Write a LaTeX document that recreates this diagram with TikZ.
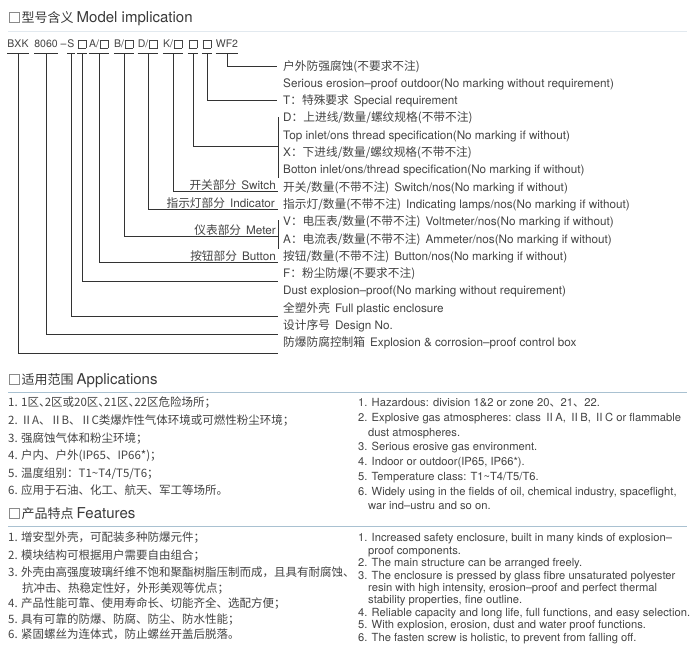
\documentclass[tikz,border=0pt]{standalone}
\usepackage{fontspec}
\setmainfont{TeX Gyre Heros}
\newfontfamily\cjk{Noto Sans CJK SC}
\definecolor{txt}{HTML}{444444}
\definecolor{ttl}{HTML}{3A3A3A}
\definecolor{lne}{HTML}{333333}
\definecolor{rulec}{HTML}{A9C1D1}
\definecolor{rulef}{HTML}{E2E9EF}
\definecolor{sqc}{HTML}{8A8A8A}
\newcommand\rowf{\fontsize{11.7}{14}\selectfont}
\newcommand\codef{\fontsize{10.5}{12}\selectfont}
\newcommand\titf{\fontsize{15}{17}\selectfont}
\newcommand\titc{\cjk\fontsize{13}{15}\selectfont}
\newcommand\fbc{\cjk\fontsize{11.5}{13}\selectfont}
\newcommand\fbe{\fontsize{11.2}{13}\selectfont}
\newcommand\rmtwo{\makebox[0.95em]{Ⅱ}}
\newcommand\nd{、\kern-0.5em}
\newcommand\sqb{\kern0.6pt{\setlength{\fboxsep}{0pt}\setlength{\fboxrule}{0.5pt}\fbox{\rule{0pt}{0.72em}\rule{0.72em}{0pt}}}\kern0.6pt}
\begin{document}
\begin{tikzpicture}[x=1pt,y=-1pt,
  rowt/.style={anchor=base west,inner sep=0pt,font=\rowf,text=txt},
  lblt/.style={anchor=base east,inner sep=0pt,font=\rowf,text=txt},
  codet/.style={anchor=base,inner sep=0pt,text height=7.5pt,text depth=5.5pt,font=\codef,text=txt},
  lead/.style={draw=lne,line width=0.8pt},
  uline/.style={draw=lne,line width=0.8pt},
  titlet/.style={anchor=base west,inner sep=0pt,font=\titf,text=ttl},
  sqbox/.style={draw=sqc,line width=0.7pt,fill=white,minimum size=10pt,inner sep=0pt},
  bodyc/.style={anchor=base west,inner sep=0pt,font=\fbc,text=txt},
  bodye/.style={anchor=base west,inner sep=0pt,font=\fbe,text=txt},
  hrule/.style={draw=rulec,line width=0.9pt}]
\fill[white] (0,0) rectangle (700,654);
\useasboundingbox (0,0) rectangle (700,654);

% ---------- titles and rules
\node[sqbox] (s1) at (14,17.5) {};
\node[titlet] (t1) at (21.5,22.8) {{\titc 型号含义}\hspace{3pt}Model implication};
\draw[draw=rulef,line width=0.9pt] (8,31) -- (687,31);
\node[sqbox] (s2) at (14,379.5) {};
\node[titlet] (t2) at (21.5,384.8) {{\titc 适用范围}\hspace{3pt}Applications};
\draw[hrule] (8,392) -- (687,392);
\node[sqbox] (s3) at (14,513.5) {};
\node[titlet] (t3) at (21.5,518.8) {{\titc 产品特点}\hspace{3pt}Features};
\draw[hrule] (8,526.5) -- (687,526.5);

% ---------- model code
\node[codet] (c1) at (18,47.8) {BXK};
\node[codet] (c2) at (46,47.8) {8060};
\node[codet] (dsh) at (63.5,47.8) {–};
\node[codet] (c3) at (71,47.8) {S};
\node[codet] (c4) at (82,47.8) {\sqb};
\node[codet] (c5) at (99,47.8) {A/\sqb};
\node[codet] (c6) at (124,47.8) {B/\sqb};
\node[codet] (c7) at (148,47.8) {D/\sqb};
\node[codet] (c8) at (173,47.8) {K/\sqb};
\node[codet] (c9) at (193,47.8) {\sqb};
\node[codet] (c10) at (207,47.8) {\sqb};
\node[codet] (c11) at (227,47.8) {WF2};
\foreach \n in {c1,c2,c3,c4,c5,c6,c7,c8,c9,c10,c11}
  \draw[uline] (\n.south west) -- (\n.south east);

% ---------- row texts
\node[rowt] (r1) at (283,70.0) {{\cjk 户外防强腐蚀(不要求不注)}};
\node[rowt] (r2) at (283,87.3) {Serious erosion–proof outdoor(No marking without requirement)};
\node[rowt] (r3) at (283,104.6) {T{\cjk ：特殊要求}\hspace{5pt}Special requirement};
\node[rowt] (r4) at (283,121.9) {D{\cjk ：上进线/数量/螺纹规格(不带不注)}};
\node[rowt] (r5) at (283,139.2) {Top inlet/ons thread specification(No marking if without)};
\node[rowt] (r6) at (283,156.5) {X{\cjk ：下进线/数量/螺纹规格(不带不注)}};
\node[rowt] (r7) at (283,173.8) {Botton inlet/ons/thread specification(No marking if without)};
\node[rowt] (r8) at (283,191.1) {{\cjk 开关/数量(不带不注)}\hspace{5pt}Switch/nos(No marking if without)};
\node[rowt] (r9) at (283,208.4) {{\cjk 指示灯/数量(不带不注)}\hspace{5pt}Indicating lamps/nos(No marking if without)};
\node[rowt] (r10) at (283,225.7) {V{\cjk ：电压表/数量(不带不注)}\hspace{5pt}Voltmeter/nos(No marking if without)};
\node[rowt] (r11) at (283,243.0) {A{\cjk ：电流表/数量(不带不注)}\hspace{5pt}Ammeter/nos(No marking if without)};
\node[rowt] (r12) at (283,260.3) {{\cjk 按钮/数量(不带不注)}\hspace{5pt}Button/nos(No marking if without)};
\node[rowt] (r13) at (283,277.6) {F{\cjk ：粉尘防爆(不要求不注)}};
\node[rowt] (r14) at (283,294.9) {Dust explosion–proof(No marking without requirement)};
\node[rowt] (r15) at (283,312.2) {{\cjk 全塑外壳}\hspace{5pt}Full plastic enclosure};
\node[rowt] (r16) at (283,329.5) {{\cjk 设计序号}\hspace{5pt}Design No.};
\node[rowt] (r17) at (283,346.8) {{\cjk 防爆防腐控制箱}\hspace{5pt}Explosion \& corrosion–proof control box};

% ---------- group labels
\node[lblt] (l8) at (276,189.2) {{\cjk 开关部分}\hspace{5pt}Switch};
\node[lblt] (l7) at (275,207.2) {{\cjk 指示灯部分}\hspace{5pt}Indicator};
\node[lblt] (l6) at (276,234.0) {{\cjk 仪表部分}\hspace{5pt}Meter};
\node[lblt] (l5) at (276,260.5) {{\cjk 按钮部分}\hspace{5pt}Button};

% ---------- leader lines
\coordinate (e11) at (277,66);
\coordinate (e10) at (277,100.6);
\coordinate (bdt) at (278,117);
\coordinate (bdb) at (278,178);
\coordinate (e9) at (278,146);
\coordinate (e8) at (278,191.7);
\coordinate (e7) at (278,209.5);
\coordinate (bmt) at (278,220);
\coordinate (bmb) at (278,249);
\coordinate (e6) at (278,236);
\coordinate (e5) at (278,262.7);
\coordinate (e4) at (278,281);
\coordinate (e3) at (278,316);
\coordinate (e2) at (278,334);
\coordinate (e1) at (278,353);
\draw[lead] (bdt) -- (bdb);
\draw[lead] (bmt) -- (bmb);
\draw[lead] (c11.south) |- (e11);
\draw[lead] (c10.south) |- (e10);
\draw[lead] (c9.south) |- (e9);
\draw[lead] (c8.south) |- (e8);
\draw[lead] (c7.south) |- (e7);
\draw[lead] (c6.south) |- (e6);
\draw[lead] (c5.south) |- (e5);
\draw[lead] (c4.south) |- (e4);
\draw[lead] (c3.south) |- (e3);
\draw[lead] (c2.south) |- (e2);
\draw[lead] (c1.south) |- (e1);

% ---------- applications
\node[bodyc] (a1) at (8,406.9) {1. 1区\nd 2区或20区\nd 21区\nd 22区危险场所；};
\node[bodyc] (a2) at (8,424.5) {2. \rmtwo A、\rmtwo B、\rmtwo C类爆炸性气体环境或可燃性粉尘环境；};
\node[bodyc] (a3) at (8,442.1) {3. 强腐蚀气体和粉尘环境；};
\node[bodyc] (a4) at (8,459.7) {4. 户内、户外(IP65、IP66*)；};
\node[bodyc] (a5) at (8,477.3) {5. 温度组别：T1\textasciitilde T4/T5/T6；};
\node[bodyc] (a6) at (8,494.9) {6. 应用于石油、化工、航天、军工等场所。};

\node[bodye] (b1) at (358,406.8) {1. Hazardous: division 1\&2 or zone 20{\cjk 、}21{\cjk 、}22.};
\node[bodye] (b2) at (358,421.5) {2. Explosive gas atmospheres: class {\cjk Ⅱ}A, {\cjk Ⅱ}B, {\cjk Ⅱ}C or flammable};
\node[bodye] (b3) at (368,436.2) {dust atmospheres.};
\node[bodye] (b4) at (358,450.9) {3. Serious erosive gas environment.};
\node[bodye] (b5) at (358,465.6) {4. Indoor or outdoor(IP65, IP66*).};
\node[bodye] (b6) at (358,480.3) {5. Temperature class: T1\textasciitilde T4/T5/T6.};
\node[bodye] (b7) at (358,495.0) {6. Widely using in the fields of oil, chemical industry, spaceflight,};
\node[bodye] (b8) at (368,509.7) {war ind–ustru and so on.};

% ---------- features
\node[bodyc] (f1) at (8,541.9) {1. 增安型外壳，可配装多种防爆元件；};
\node[bodyc] (f2) at (8,559.4) {2. 模块结构可根据用户需要自由组合；};
\node[bodyc] (f3) at (8,576.4) {3. 外壳由高强度玻璃纤维不饱和聚酯树脂压制而成，且具有耐腐蚀、};
\node[bodyc] (f4) at (22,592.4) {抗冲击、热稳定性好，外形美观等优点；};
\node[bodyc] (f5) at (8,607.9) {4. 产品性能可靠、使用寿命长、切能齐全、选配方便；};
\node[bodyc] (f6) at (8,623.4) {5. 具有可靠的防爆、防腐、防尘、防水性能；};
\node[bodyc] (f7) at (8,638.9) {6. 紧固螺丝为连体式，防止螺丝开盖后脱落。};

\node[bodye] (g1) at (358,541.8) {1. Increased safety enclosure, built in many kinds of explosion–};
\node[bodye] (g2) at (368,554.2) {proof components.};
\node[bodye] (g3) at (358,566.6) {2. The main structure can be arranged freely.};
\node[bodye] (g4) at (358,579.0) {3. The enclosure is pressed by glass fibre unsaturated polyester};
\node[bodye] (g5) at (368,591.4) {resin with high intensity, erosion–proof and perfect thermal};
\node[bodye] (g6) at (368,603.8) {stability properties, fine outline.};
\node[bodye] (g7) at (358,616.2) {4. Reliable capacity and long life, full functions, and easy selection.};
\node[bodye] (g8) at (358,628.6) {5. With explosion, erosion, dust and water proof functions.};
\node[bodye] (g9) at (358,641.0) {6. The fasten screw is holistic, to prevent from falling off.};
\end{tikzpicture}
\end{document}
